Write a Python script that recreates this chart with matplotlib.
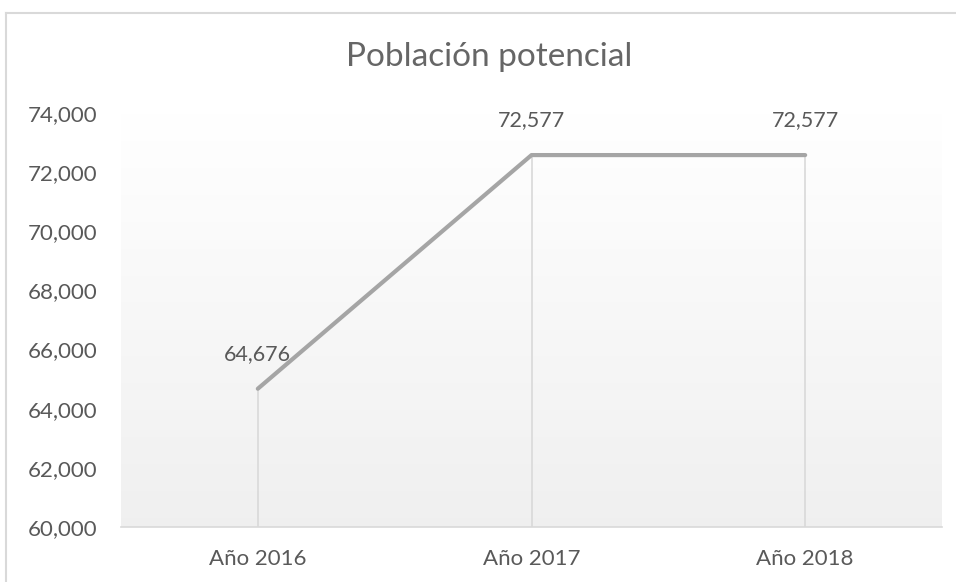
import numpy as np
import matplotlib.pyplot as plt
from matplotlib.lines import Line2D

plt.rcParams['font.family'] = ['Lato', 'DejaVu Sans']

years = ['Año 2016', 'Año 2017', 'Año 2018']
poblacion = [64676, 72577, 72577]
yticks = [60000, 62000, 64000, 66000, 68000, 70000, 72000, 74000]

W, H = 956, 582
txt = '#595959'
fig = plt.figure(figsize=(W / 100, H / 100), dpi=100)
fig.patch.set_facecolor('white')

# outer chart border (left and top only visible in the crop)
fig.add_artist(Line2D([6 / W, 6 / W], [0, 1 - 13 / H], color='#d9d9d9', lw=1.5))
fig.add_artist(Line2D([6 / W, 1], [1 - 13 / H, 1 - 13 / H], color='#d9d9d9', lw=1.5))

ax = fig.add_axes([121 / W, 1 - 527 / H, (942 - 121) / W, (527 - 113) / H])
x = np.arange(len(years))
ax.set_xlim(-0.5, len(years) - 0.5)
ax.set_ylim(60000, 74000)

# vertical gradient background
grad = np.linspace(1.0, 0.0, 256).reshape(-1, 1)
top = np.array([1.0, 1.0, 1.0])
bot = np.array([0.94, 0.94, 0.94])
img = top * grad[..., None] + bot * (1 - grad[..., None])
ax.imshow(img, extent=[-0.5, len(years) - 0.5, 60000, 74000], aspect='auto', zorder=0)

# drop lines
ax.vlines(x, 60000, poblacion, colors='#d9d9d9', lw=1.2, zorder=1)
ax.plot(x, poblacion, color='#a5a5a5', lw=3, solid_capstyle='round', zorder=3)

for xi, v in zip(x, poblacion):
    ax.annotate(f'{v:,}', (xi, v), xytext=(0, 25), textcoords='offset points',
                ha='center', va='center', fontsize=15.5, color=txt)

for s in ['top', 'right', 'left']:
    ax.spines[s].set_visible(False)
ax.spines['bottom'].set_color('#d9d9d9')
ax.spines['bottom'].set_linewidth(1.2)

ax.set_xticks(x)
ax.set_xticklabels(years)
ax.set_yticks(yticks)
ax.set_yticklabels([f'{t:,}' for t in yticks])
ax.tick_params(axis='both', length=0, labelsize=16, labelcolor=txt)
ax.tick_params(axis='x', pad=16)
ax.tick_params(axis='y', pad=17)

fig.text(489 / W, 1 - 57 / H, 'Población potencial', ha='center', va='center',
         fontsize=24, color='#666666')

fig.savefig('out.png', dpi=100)
